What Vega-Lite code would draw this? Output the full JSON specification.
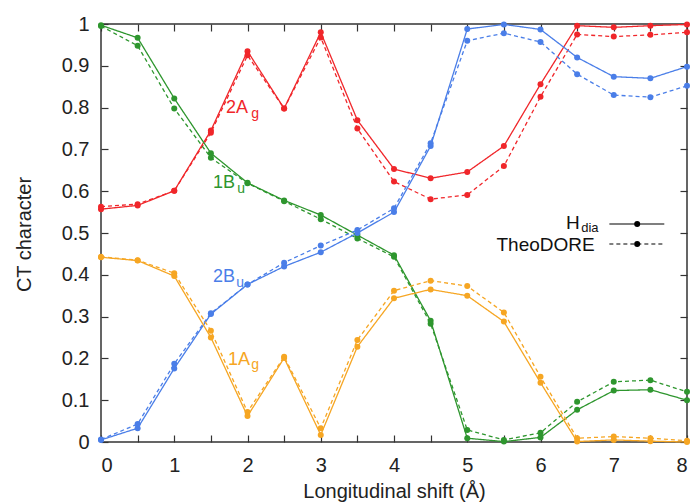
{
  "$schema": "https://vega.github.io/schema/vega-lite/v6.json",
  "width": 586,
  "height": 418,
  "autosize": {"type": "none"},
  "padding": {"left": 101, "top": 24, "right": 8, "bottom": 62},
  "background": "white",
  "config": {
    "font": "Liberation Sans",
    "view": {"stroke": "#333", "strokeWidth": 1.5},
    "axis": {
      "domain": false, "grid": false, "tickSize": -7, "tickColor": "#333", "tickWidth": 1.2,
      "labelFont": "Liberation Sans", "labelFontSize": 20, "labelColor": "#222",
      "titleFont": "Liberation Sans", "titleFontSize": 20, "titleFontWeight": "normal", "titleColor": "#222"
    }
  },
  "datasets": {
    "curves": [
      {"x":0,"s":"2Ag","H":0.557,"T":0.563},{"x":0.5,"s":"2Ag","H":0.566,"T":0.569},{"x":1,"s":"2Ag","H":0.601,"T":0.601},{"x":1.5,"s":"2Ag","H":0.745,"T":0.740},{"x":2,"s":"2Ag","H":0.935,"T":0.925},{"x":2.5,"s":"2Ag","H":0.798,"T":0.798},{"x":3,"s":"2Ag","H":0.980,"T":0.968},{"x":3.5,"s":"2Ag","H":0.770,"T":0.750},{"x":4,"s":"2Ag","H":0.653,"T":0.623},{"x":4.5,"s":"2Ag","H":0.631,"T":0.581},{"x":5,"s":"2Ag","H":0.646,"T":0.591},{"x":5.5,"s":"2Ag","H":0.708,"T":0.660},{"x":6,"s":"2Ag","H":0.856,"T":0.826},{"x":6.5,"s":"2Ag","H":0.996,"T":0.975},{"x":7,"s":"2Ag","H":0.992,"T":0.970},{"x":7.5,"s":"2Ag","H":0.996,"T":0.974},{"x":8,"s":"2Ag","H":0.999,"T":0.980},
      {"x":0,"s":"1Bu","H":0.997,"T":0.995},{"x":0.5,"s":"1Bu","H":0.967,"T":0.948},{"x":1,"s":"1Bu","H":0.822,"T":0.798},{"x":1.5,"s":"1Bu","H":0.691,"T":0.680},{"x":2,"s":"1Bu","H":0.620,"T":0.619},{"x":2.5,"s":"1Bu","H":0.578,"T":0.576},{"x":3,"s":"1Bu","H":0.543,"T":0.533},{"x":3.5,"s":"1Bu","H":0.495,"T":0.487},{"x":4,"s":"1Bu","H":0.447,"T":0.443},{"x":4.5,"s":"1Bu","H":0.290,"T":0.283},{"x":5,"s":"1Bu","H":0.009,"T":0.029},{"x":5.5,"s":"1Bu","H":0.001,"T":0.005},{"x":6,"s":"1Bu","H":0.011,"T":0.022},{"x":6.5,"s":"1Bu","H":0.077,"T":0.096},{"x":7,"s":"1Bu","H":0.123,"T":0.144},{"x":7.5,"s":"1Bu","H":0.125,"T":0.148},{"x":8,"s":"1Bu","H":0.100,"T":0.120},
      {"x":0,"s":"2Bu","H":0.005,"T":0.006},{"x":0.5,"s":"2Bu","H":0.033,"T":0.043},{"x":1,"s":"2Bu","H":0.176,"T":0.187},{"x":1.5,"s":"2Bu","H":0.306,"T":0.308},{"x":2,"s":"2Bu","H":0.377,"T":0.377},{"x":2.5,"s":"2Bu","H":0.420,"T":0.429},{"x":3,"s":"2Bu","H":0.454,"T":0.470},{"x":3.5,"s":"2Bu","H":0.500,"T":0.507},{"x":4,"s":"2Bu","H":0.550,"T":0.559},{"x":4.5,"s":"2Bu","H":0.708,"T":0.715},{"x":5,"s":"2Bu","H":0.988,"T":0.960},{"x":5.5,"s":"2Bu","H":0.999,"T":0.978},{"x":6,"s":"2Bu","H":0.987,"T":0.957},{"x":6.5,"s":"2Bu","H":0.920,"T":0.880},{"x":7,"s":"2Bu","H":0.874,"T":0.830},{"x":7.5,"s":"2Bu","H":0.870,"T":0.825},{"x":8,"s":"2Bu","H":0.898,"T":0.852},
      {"x":0,"s":"1Ag","H":0.442,"T":0.443},{"x":0.5,"s":"1Ag","H":0.434,"T":0.435},{"x":1,"s":"1Ag","H":0.397,"T":0.404},{"x":1.5,"s":"1Ag","H":0.250,"T":0.266},{"x":2,"s":"1Ag","H":0.062,"T":0.072},{"x":2.5,"s":"1Ag","H":0.201,"T":0.204},{"x":3,"s":"1Ag","H":0.017,"T":0.033},{"x":3.5,"s":"1Ag","H":0.228,"T":0.244},{"x":4,"s":"1Ag","H":0.344,"T":0.362},{"x":4.5,"s":"1Ag","H":0.365,"T":0.386},{"x":5,"s":"1Ag","H":0.350,"T":0.373},{"x":5.5,"s":"1Ag","H":0.288,"T":0.310},{"x":6,"s":"1Ag","H":0.142,"T":0.156},{"x":6.5,"s":"1Ag","H":0.001,"T":0.009},{"x":7,"s":"1Ag","H":0.005,"T":0.013},{"x":7.5,"s":"1Ag","H":0.002,"T":0.009},{"x":8,"s":"1Ag","H":0.000,"T":0.003}
    ],
    "labels": [
      {"x":1.705,"y":0.787,"t":"2A","s":"2Ag"},
      {"x":1.528,"y":0.608,"t":"1B","s":"1Bu"},
      {"x":1.528,"y":0.383,"t":"2B","s":"2Bu"},
      {"x":1.733,"y":0.184,"t":"1A","s":"1Ag"}
    ],
    "subs": [
      {"x":2.05,"y":0.775,"t":"g","s":"2Ag"},
      {"x":1.86,"y":0.596,"t":"u","s":"1Bu"},
      {"x":1.845,"y":0.371,"t":"u","s":"2Bu"},
      {"x":2.05,"y":0.175,"t":"g","s":"1Ag"}
    ],
    "leg": [
      {"x1":6.94,"x2":7.69,"xp":7.32,"y":0.5215,"m":"H"},
      {"x1":6.94,"x2":7.69,"xp":7.32,"y":0.4737,"m":"T"}
    ],
    "legtext": [
      {"x":6.535,"y":0.509,"t":"H"},
      {"x":6.74,"y":0.456,"t":"TheoDORE"}
    ],
    "legsub": [
      {"x":6.555,"y":0.503,"t":"dia"}
    ]
  },
  "layer": [
    {
      "data": {"name": "curves"},
      "transform": [{"fold": ["H", "T"], "as": ["m", "v"]}],
      "mark": {"type": "line", "strokeWidth": 1.3, "clip": false},
      "encoding": {
        "x": {"field": "x", "type": "quantitative", "scale": {"domain": [0, 8], "nice": false},
          "axis": {"orient": "bottom", "values": [0,0.5,1,1.5,2,2.5,3,3.5,4,4.5,5,5.5,6,6.5,7,7.5,8],
            "labelExpr": "datum.value % 1 === 0 ? format(datum.value, 'd') : ''", "labelPadding": 20,
            "title": "Longitudinal shift (Å)", "titleBaseline": "alphabetic", "titleY": 55}},
        "y": {"field": "v", "type": "quantitative", "scale": {"domain": [0, 1], "nice": false},
          "axis": {"orient": "left", "values": [0,0.1,0.2,0.3,0.4,0.5,0.6,0.7,0.8,0.9,1], "format": "~g",
            "labelPadding": 19, "title": "CT character", "titleBaseline": "alphabetic", "titleX": -71, "titleY": 210}},
        "color": {"field": "s", "type": "nominal",
          "scale": {"domain": ["2Ag","1Bu","2Bu","1Ag"], "range": ["#f0262a","#2e962e","#4a7ee8","#f6a623"]}, "legend": null},
        "strokeDash": {"field": "m", "type": "nominal", "scale": {"domain": ["H","T"], "range": [[1,0],[4,3]]}, "legend": null}
      }
    },
    {
      "data": {"name": "curves"},
      "transform": [{"fold": ["H", "T"], "as": ["m", "v"]}],
      "mark": {"type": "point", "filled": true, "opacity": 1, "size": 36, "clip": false},
      "encoding": {
        "x": {"field": "x", "type": "quantitative",
          "axis": {"orient": "top", "values": [0,0.5,1,1.5,2,2.5,3,3.5,4,4.5,5,5.5,6,6.5,7,7.5,8], "labels": false, "title": null}},
        "y": {"field": "v", "type": "quantitative",
          "axis": {"orient": "right", "values": [0,0.1,0.2,0.3,0.4,0.5,0.6,0.7,0.8,0.9,1], "labels": false, "title": null}},
        "color": {"field": "s", "type": "nominal", "legend": null}
      }
    },
    {
      "data": {"name": "labels"},
      "mark": {"type": "text", "align": "left", "baseline": "alphabetic", "fontSize": 18},
      "encoding": {
        "x": {"field": "x", "type": "quantitative", "axis": null},
        "y": {"field": "y", "type": "quantitative", "axis": null},
        "text": {"field": "t"},
        "color": {"field": "s", "type": "nominal", "legend": null}
      }
    },
    {
      "data": {"name": "subs"},
      "mark": {"type": "text", "align": "left", "baseline": "alphabetic", "fontSize": 14},
      "encoding": {
        "x": {"field": "x", "type": "quantitative", "axis": null},
        "y": {"field": "y", "type": "quantitative", "axis": null},
        "text": {"field": "t"},
        "color": {"field": "s", "type": "nominal", "legend": null}
      }
    },
    {
      "data": {"name": "leg"},
      "mark": {"type": "rule", "color": "black", "strokeWidth": 1.2},
      "encoding": {
        "x": {"field": "x1", "type": "quantitative", "axis": null},
        "x2": {"field": "x2"},
        "y": {"field": "y", "type": "quantitative", "axis": null},
        "strokeDash": {"field": "m", "type": "nominal", "legend": null}
      }
    },
    {
      "data": {"name": "leg"},
      "mark": {"type": "point", "filled": true, "opacity": 1, "size": 36, "color": "black"},
      "encoding": {
        "x": {"field": "xp", "type": "quantitative", "axis": null},
        "y": {"field": "y", "type": "quantitative", "axis": null}
      }
    },
    {
      "data": {"name": "legtext"},
      "mark": {"type": "text", "align": "right", "baseline": "alphabetic", "fontSize": 19, "color": "#111"},
      "encoding": {
        "x": {"field": "x", "type": "quantitative", "axis": null},
        "y": {"field": "y", "type": "quantitative", "axis": null},
        "text": {"field": "t"}
      }
    },
    {
      "data": {"name": "legsub"},
      "mark": {"type": "text", "align": "left", "baseline": "alphabetic", "fontSize": 13, "color": "#111"},
      "encoding": {
        "x": {"field": "x", "type": "quantitative", "axis": null},
        "y": {"field": "y", "type": "quantitative", "axis": null},
        "text": {"field": "t"}
      }
    }
  ],
  "resolve": {"axis": {"x": "independent", "y": "independent"}}
}
